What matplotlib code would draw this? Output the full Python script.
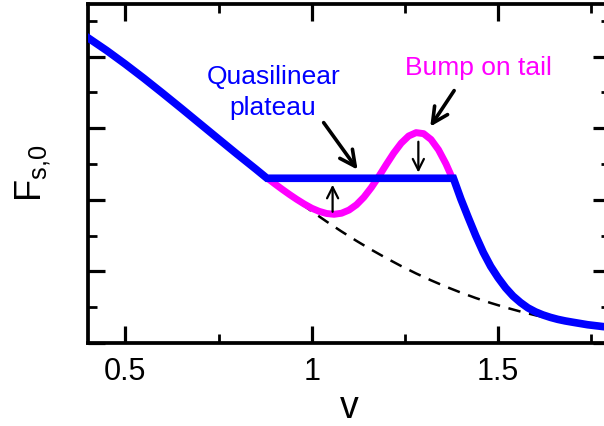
import matplotlib
matplotlib.use("Agg")
import matplotlib.pyplot as plt
from matplotlib.ticker import MultipleLocator

plt.rcParams['font.family'] = ['Liberation Sans', 'DejaVu Sans']
plt.rcParams['mathtext.fontset'] = 'custom'
plt.rcParams['mathtext.rm'] = 'Liberation Sans'
plt.rcParams['mathtext.it'] = 'Liberation Sans:italic'
plt.rcParams['mathtext.default'] = 'rm'

# ---- data ----
v_left = [0.40, 0.45, 0.50, 0.55, 0.60, 0.65, 0.70, 0.75, 0.80, 0.85, 0.88]
f_left = [4.261, 4.084, 3.894, 3.695, 3.488, 3.277, 3.063, 2.849, 2.636, 2.428, 2.30]

v_plateau = [0.88, 1.38]
f_plateau = [2.30, 2.30]

v_tail = [1.40, 1.42, 1.44, 1.46, 1.48, 1.50, 1.52, 1.54, 1.56, 1.58, 1.60,
          1.62, 1.64, 1.66, 1.68, 1.70, 1.74, 1.78, 1.80]
f_tail = [2.011, 1.750, 1.497, 1.266, 1.070, 0.910, 0.770, 0.655, 0.565, 0.490,
          0.435, 0.392, 0.358, 0.330, 0.308, 0.290, 0.255, 0.230, 0.220]

v_bump = [0.88, 0.90, 0.92, 0.94, 0.96, 0.98, 1.00, 1.02, 1.04, 1.06, 1.08,
          1.10, 1.12, 1.14, 1.16, 1.18, 1.20, 1.22, 1.24, 1.26, 1.28, 1.30,
          1.32, 1.34, 1.36, 1.38]
f_bump = [2.306, 2.226, 2.149, 2.075, 2.005, 1.940, 1.882, 1.838, 1.808, 1.797,
          1.812, 1.856, 1.930, 2.036, 2.171, 2.326, 2.492, 2.652, 2.790, 2.890,
          2.937, 2.923, 2.841, 2.698, 2.502, 2.268]

v_maxw = [0.88, 0.92, 0.96, 1.00, 1.04, 1.08, 1.12, 1.16, 1.20, 1.24, 1.28,
          1.32, 1.36, 1.40, 1.44, 1.48, 1.52, 1.56, 1.60, 1.64, 1.68, 1.72,
          1.76, 1.80]
f_maxw = [2.305, 2.145, 1.990, 1.839, 1.695, 1.557, 1.426, 1.302, 1.185, 1.074,
          0.971, 0.875, 0.786, 0.704, 0.628, 0.559, 0.496, 0.439, 0.387, 0.340,
          0.297, 0.259, 0.226, 0.196]

x_major = [0.5, 1.0, 1.5]
x_labels = ['0.5', '1', '1.5']

BLUE = '#0000FF'
MAGENTA = '#FF00FF'

fig = plt.figure(figsize=(6.04, 4.26), dpi=100)
ax = fig.add_axes([88 / 604, (426 - 343) / 426, (610 - 88) / 604, (343 - 3.5) / 426])

ax.plot(v_maxw, f_maxw, color='k', lw=1.8, dashes=(5, 3.5), zorder=1)
ax.plot(v_bump, f_bump, color=MAGENTA, lw=5.0, zorder=2, solid_capstyle='butt')
# blue: left Maxwellian, flat plateau (left end shared with v_left), tail
ax.plot(v_left + v_plateau[1:] + v_tail, f_left + f_plateau[1:] + f_tail,
        color=BLUE, lw=5.5, zorder=3, solid_joinstyle='miter')

ax.set_xlim(0.4, 1.8)
ax.set_ylim(0, 4.74)
ax.set_xticks(x_major)
ax.set_xticklabels(x_labels)
ax.xaxis.set_minor_locator(MultipleLocator(0.25))
ax.yaxis.set_major_locator(MultipleLocator(1.0))
ax.yaxis.set_minor_locator(MultipleLocator(0.5))
ax.tick_params(which='both', direction='in', top=True, right=True,
               labelleft=False)
ax.tick_params(which='major', length=12, width=2.3, labelsize=22, pad=10)
ax.tick_params(which='minor', length=6.5, width=2.0)
for s in ax.spines.values():
    s.set_linewidth(2.7)

ax.set_xlabel('v', fontsize=27, labelpad=2)
ax.set_ylabel('F$_{s{,}0}$', fontsize=26, labelpad=25)

ax.text(0.898, 3.61, 'Quasilinear', color=BLUE, fontsize=19, ha='center', va='baseline')
ax.text(0.895, 3.19, 'plateau', color=BLUE, fontsize=19, ha='center', va='baseline')
ax.text(1.447, 3.748, 'Bump on tail', color=MAGENTA, fontsize=19, ha='center', va='baseline')

big = dict(arrowstyle='->', lw=2.6, color='k', mutation_scale=28, shrinkA=0, shrinkB=0)
small = dict(arrowstyle='->', lw=1.6, color='k', mutation_scale=20, shrinkA=0, shrinkB=0)
ax.annotate('', xy=(1.123, 2.42), xytext=(1.032, 3.077), arrowprops=big, zorder=5)
ax.annotate('', xy=(1.318, 3.021), xytext=(1.382, 3.524), arrowprops=big, zorder=5)
ax.annotate('', xy=(1.056, 2.21), xytext=(1.056, 1.832), arrowprops=small, zorder=5)
ax.annotate('', xy=(1.286, 2.38), xytext=(1.286, 2.81), arrowprops=small, zorder=5)

fig.savefig('out.png', dpi=100)
